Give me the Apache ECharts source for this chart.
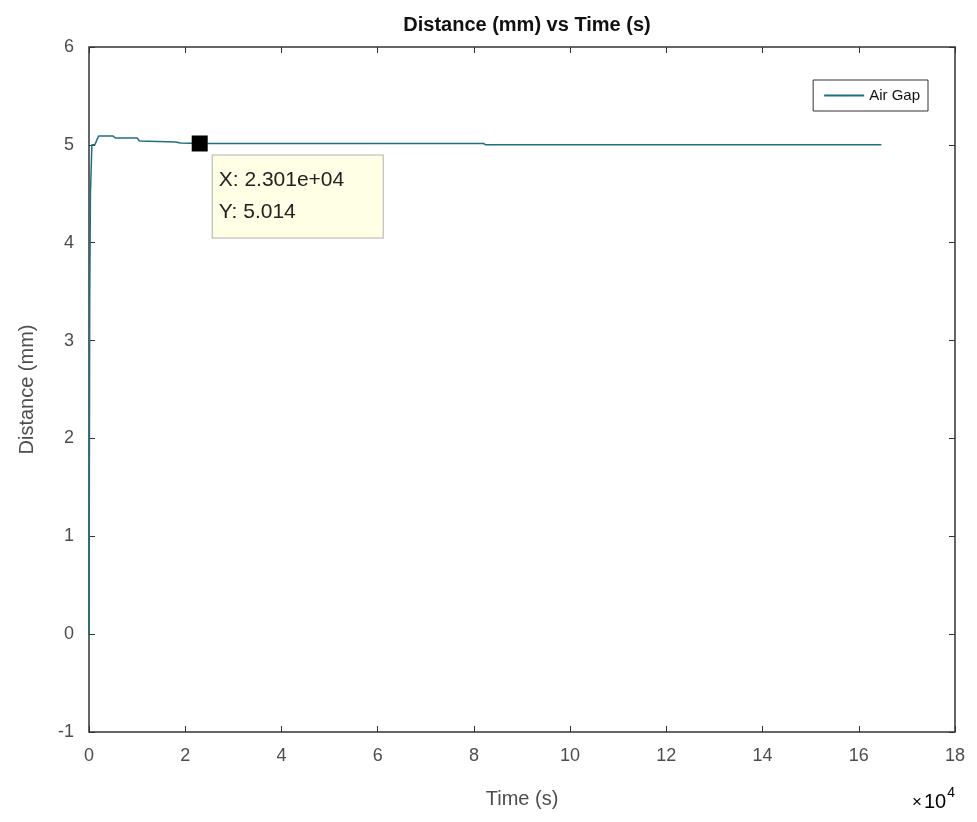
<!DOCTYPE html>
<html lang="en">

<head>
    <meta charset="UTF-8">
    <title>Distance (mm) vs Time (s)</title>
    <style>
        html, body { margin: 0; padding: 0; background: #fff; }
        #chart { width: 977px; height: 822px; }
    </style>
</head>

<body>
    <div id='chart'></div>

    <script src="https://cdn.jsdelivr.net/npm/echarts@6/dist/echarts.min.js"></script>
    <script>
        // time in seconds, air gap in mm
        const timeS = [0, 150, 300, 600, 1200, 2000, 5000, 5500, 10000, 10500, 18000, 19000, 23010, 82000, 82500, 164700]
        const airGap = [0, 3.4, 4.5, 5.0, 5.0, 5.09, 5.09, 5.07, 5.07, 5.04, 5.03, 5.018, 5.014, 5.014, 5.0, 5.0]

        const tipPoint = [23010, 5.014]
        const tipText = ['X: 2.301e+04', 'Y: 5.014']

        const xMin = 0, xMax = 180000, xStep = 20000
        const yMin = -1, yMax = 6, yStep = 1

        const font = 'Liberation Sans, Arial, sans-serif'
        const lineColor = '#1f6f80'
        const axisColor = '#333'
        const labelColor = '#4d4d4d'

        const points = timeS.map((t, i) => [t, airGap[i]])

        const hiddenAxis = {
            axisLine: { show: false, onZero: false },
            axisTick: { inside: true, length: 6, lineStyle: { color: axisColor } },
            axisLabel: { show: false },
            splitLine: { show: false }
        }

        const chart = echarts.init(document.querySelector('#chart'))
        chart.setOption({
            animation: false,
            textStyle: { fontFamily: font },
            title: {
                text: 'Distance (mm) vs Time (s)',
                left: 522,
                textAlign: 'center',
                top: 10,
                textStyle: { fontSize: 20, fontWeight: 'bold', color: '#111', fontFamily: font }
            },
            grid: {
                left: 89, right: 22, top: 47, bottom: 90,
                show: true, borderColor: axisColor, borderWidth: 1.5
            },
            legend: {
                data: ['Air Gap'],
                right: 49, top: 80,
                orient: 'vertical',
                backgroundColor: '#fff',
                borderColor: axisColor, borderWidth: 1,
                padding: [8, 8, 8, 10],
                itemWidth: 40, itemHeight: 2,
                textStyle: { fontSize: 15, color: '#111', fontFamily: font }
            },
            xAxis: [{
                type: 'value',
                min: xMin, max: xMax, interval: xStep,
                name: 'Time (s)',
                nameLocation: 'middle',
                nameGap: 57,
                nameTextStyle: { fontSize: 20, color: labelColor },
                axisLine: { show: false, onZero: false },
                axisTick: { inside: true, length: 6, lineStyle: { color: axisColor } },
                axisLabel: { fontSize: 18, color: labelColor, margin: 15, formatter: v => String(v / 10000) },
                splitLine: { show: false }
            }, Object.assign({ type: 'value', position: 'top', min: xMin, max: xMax, interval: xStep }, hiddenAxis)],
            yAxis: [{
                type: 'value',
                min: yMin, max: yMax, interval: yStep,
                name: 'Distance (mm)',
                nameLocation: 'middle',
                nameGap: 52,
                nameTextStyle: { fontSize: 20, color: labelColor },
                axisLine: { show: false, onZero: false },
                axisTick: { inside: true, length: 6, lineStyle: { color: axisColor } },
                axisLabel: { fontSize: 18, color: labelColor, margin: 15 },
                splitLine: { show: false }
            }, Object.assign({ type: 'value', position: 'right', min: yMin, max: yMax, interval: yStep }, hiddenAxis)],
            graphic: [{
                type: 'text',
                right: 22, top: 786,
                style: {
                    text: '{x|×}{b|10}{s|4}',
                    rich: {
                        x: { fontSize: 17, color: labelColor, fontFamily: font, padding: [6, 2, 0, 0] },
                        b: { fontSize: 20, color: labelColor, fontFamily: font, padding: [6, 0, 0, 0] },
                        s: { fontSize: 14, color: labelColor, fontFamily: font, verticalAlign: 'top', padding: [0, 0, 10, 1] }
                    }
                }
            }],
            series: [{
                name: 'Air Gap',
                type: 'line',
                data: points,
                symbol: 'none',
                lineStyle: { color: lineColor, width: 1.5 },
                itemStyle: { color: lineColor },
                markPoint: {
                    symbol: 'rect',
                    symbolSize: 16,
                    itemStyle: { color: '#000' },
                    data: [{ coord: tipPoint }],
                    label: {
                        show: true,
                        position: [21, 20],
                        formatter: tipText.join('\n'),
                        backgroundColor: '#ffffe6',
                        borderColor: '#b0b0b0',
                        borderWidth: 1,
                        padding: [9, 10, 9, 6],
                        lineHeight: 32,
                        fontSize: 21,
                        color: '#222',
                        width: 154,
                        fontFamily: font
                    }
                }
            }]
        })
    </script>
</body>

</html>
